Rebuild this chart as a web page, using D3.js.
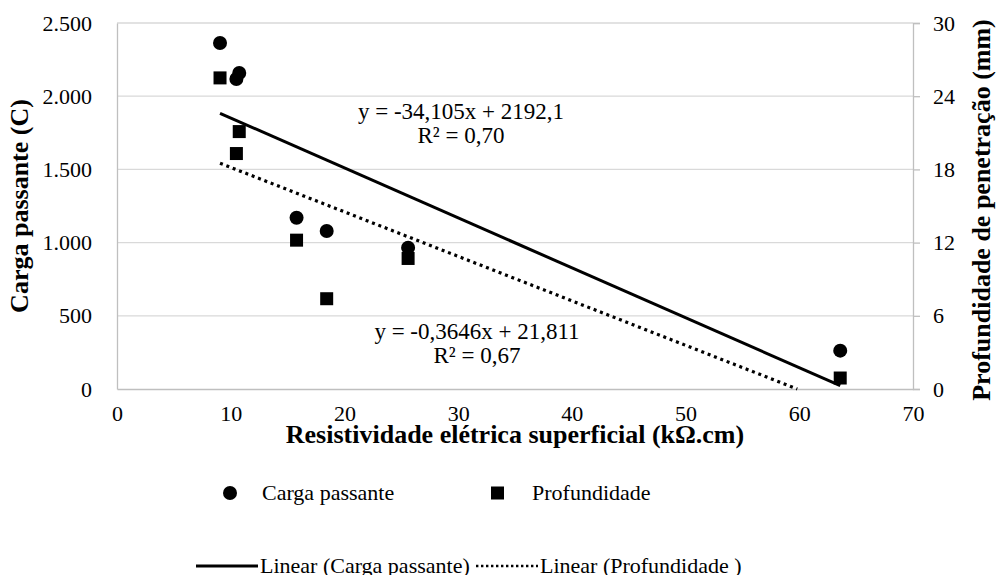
<!DOCTYPE html>
<html>
<head>
<meta charset="utf-8">
<script src="https://cdn.jsdelivr.net/npm/d3@7"></script>
<style>
  html, body { margin: 0; padding: 0; background: #fff; }
  svg { display: block; }
  svg text { font-family: "Liberation Serif", "Tinos", "Times New Roman", Times, "DejaVu Serif", serif; fill: #000; }
</style>
</head>
<body>
<svg id="chart" width="996" height="575"></svg>
<script>
// Resistividade elétrica superficial (kΩ.cm) for each mix
const resistividade = [9.06, 10.5, 10.75, 15.79, 18.44, 25.6, 63.6];
// Carga passante (C)
const carga = [2363, 2117, 2158, 1170, 1079, 965, 262];
// Profundidade de penetração (mm)
const profundidade = [25.5, 19.3, 21.1, 12.2, 7.4, 10.7, 0.9];

// Linear trend lines (slope, intercept) and R²
const trendCarga = { slope: -34.105, intercept: 2192.1, r2: "0,70", label: "y = -34,105x + 2192,1" };
const trendProf = { slope: -0.3646, intercept: 21.811, r2: "0,67", label: "y = -0,3646x + 21,811" };

const xTicks = [0, 10, 20, 30, 40, 50, 60, 70];
const yLeftTicks = [0, 500, 1000, 1500, 2000, 2500];
const yRightTicks = [0, 6, 12, 18, 24, 30];

const serif = '"Liberation Serif", "Tinos", "Times New Roman", Times, "DejaVu Serif", serif';
const svg = d3.select("#chart");
const grid = "#d9d9d9";
const axisCol = "#bfbfbf";

const x = d3.scaleLinear().domain([0, 70]).range([117, 913]);
const yL = d3.scaleLinear().domain([0, 2500]).range([389, 23]);
const yR = d3.scaleLinear().domain([0, 30]).range([389, 23]);

const ptBR = d3.formatLocale({ decimal: ",", thousands: ".", grouping: [3], currency: ["", ""] });
const fmtL = ptBR.format(",");

// Horizontal gridlines
svg.append("g").selectAll("line").data(yLeftTicks.slice(1)).join("line")
  .attr("x1", x(0)).attr("x2", x(70))
  .attr("y1", d => yL(d)).attr("y2", d => yL(d))
  .attr("stroke", grid).attr("stroke-width", 1.3);

function styleAxis(g) {
  g.attr("font-family", serif).attr("font-size", 22);
  g.select(".domain").attr("stroke", axisCol).attr("stroke-width", 1.3);
  g.selectAll(".tick line").attr("stroke", axisCol).attr("stroke-width", 1.3);
  g.selectAll("text").attr("fill", "#000");
}

// Left axis
svg.append("g").attr("transform", `translate(${x(0)},0)`)
  .call(d3.axisLeft(yL).tickValues(yLeftTicks).tickFormat(fmtL).tickSize(0).tickPadding(25))
  .call(styleAxis);

// Right axis
svg.append("g").attr("transform", `translate(${x(70)},0)`)
  .call(d3.axisRight(yR).tickValues(yRightTicks).tickSize(7).tickPadding(13))
  .call(styleAxis);

// Bottom axis
svg.append("g").attr("transform", `translate(0,${yL(0)})`)
  .call(d3.axisBottom(x).tickValues(xTicks).tickSize(0).tickPadding(16))
  .call(styleAxis);

// Trend lines drawn from their equations, over the data range, kept above zero
const xMin = d3.min(resistividade), xMax = d3.max(resistividade);
function trendEnds(t) {
  let x2 = xMax;
  if (t.slope * x2 + t.intercept < 0) x2 = -t.intercept / t.slope;
  return [[xMin, t.slope * xMin + t.intercept], [x2, t.slope * x2 + t.intercept]];
}
const lineL = d3.line().x(d => x(d[0])).y(d => yL(d[1]));
const lineR = d3.line().x(d => x(d[0])).y(d => yR(d[1]));

svg.append("path").attr("d", lineL(trendEnds(trendCarga)))
  .attr("fill", "none").attr("stroke", "#000").attr("stroke-width", 3);
svg.append("path").attr("d", lineR(trendEnds(trendProf)))
  .attr("fill", "none").attr("stroke", "#000").attr("stroke-width", 3.2)
  .attr("stroke-dasharray", "3 3.8");

// Data markers
const pts = resistividade.map((r, i) => ({ r, c: carga[i], p: profundidade[i] }));
svg.append("g").selectAll("circle").data(pts).join("circle")
  .attr("cx", d => x(d.r)).attr("cy", d => yL(d.c)).attr("r", 7).attr("fill", "#000");
svg.append("g").selectAll("rect").data(pts).join("rect")
  .attr("x", d => x(d.r) - 6.5).attr("y", d => yR(d.p) - 6.5)
  .attr("width", 13).attr("height", 13).attr("fill", "#000");

// Equation labels
function eqLabel(cx, y1, t) {
  const g = svg.append("g").attr("text-anchor", "middle").attr("font-size", 23);
  g.append("text").attr("x", cx).attr("y", y1).text(t.label);
  g.append("text").attr("x", cx).attr("y", y1 + 24).text("R² = " + t.r2);
}
eqLabel(461, 119, trendCarga);
eqLabel(477, 339, trendProf);

// Axis titles
svg.append("text").attr("x", 515).attr("y", 443).attr("text-anchor", "middle")
  .attr("font-size", 26).attr("font-weight", "bold")
  .text("Resistividade elétrica superficial (kΩ.cm)");
svg.append("text").attr("transform", "translate(28,206) rotate(-90)").attr("text-anchor", "middle")
  .attr("font-size", 26).attr("font-weight", "bold")
  .text("Carga passante (C)");
svg.append("text").attr("transform", "translate(990,210) rotate(-90)").attr("text-anchor", "middle")
  .attr("font-size", 26).attr("font-weight", "bold")
  .text("Profundidade de penetração (mm)");

// Legend
const lg = svg.append("g").attr("font-size", 22);
lg.append("circle").attr("cx", 230).attr("cy", 493).attr("r", 7).attr("fill", "#000");
lg.append("text").attr("x", 262).attr("y", 500).text("Carga passante");
lg.append("rect").attr("x", 491).attr("y", 486.5).attr("width", 13).attr("height", 13).attr("fill", "#000");
lg.append("text").attr("x", 532).attr("y", 500).text("Profundidade");
lg.append("line").attr("x1", 196).attr("x2", 258).attr("y1", 566).attr("y2", 566)
  .attr("stroke", "#000").attr("stroke-width", 3);
lg.append("text").attr("x", 260).attr("y", 573).text("Linear (Carga passante)");
lg.append("line").attr("x1", 476).attr("x2", 538).attr("y1", 566).attr("y2", 566)
  .attr("stroke", "#000").attr("stroke-width", 2.4).attr("stroke-dasharray", "2.4 2.6");
lg.append("text").attr("x", 540).attr("y", 573).text("Linear (Profundidade )");
</script>
</body>
</html>
